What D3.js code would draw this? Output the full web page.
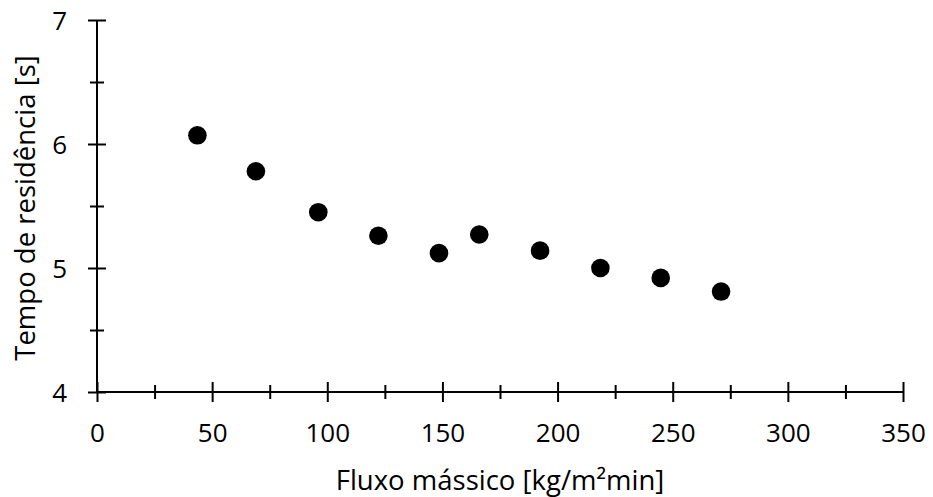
<!DOCTYPE html>
<html>
<head>
<meta charset="utf-8">
<script src="https://cdn.jsdelivr.net/npm/d3@7"></script>
<style>
  html, body { margin: 0; padding: 0; background: #fff; }
  svg { display: block; }
  text { font-family: "Open Sans", "DejaVu Sans", sans-serif; fill: #000; }
</style>
</head>
<body>
<svg id="chart" width="933" height="497"></svg>
<script>
// Mass flux (kg/m²min) and measured residence time (s)
const massFlux = [43.6, 69.0, 96.1, 122.2, 148.5, 166.0, 192.4, 218.6, 244.8, 271.0];
const residenceTime = [6.07, 5.78, 5.45, 5.26, 5.12, 5.27, 5.14, 5.00, 4.92, 4.81];

const xMajorTicks = [0, 50, 100, 150, 200, 250, 300, 350];
const xMinorTicks = [25, 75, 125, 175, 225, 275, 325];
const yMajorTicks = [4, 5, 6, 7];
const yMinorTicks = [4.5, 5.5, 6.5];

const xTitle = "Fluxo mássico [kg/m²min]";
const yTitle = "Tempo de residência [s]";

const plot = { left: 97, right: 903, top: 20, bottom: 392 };

const svg = d3.select("#chart");

const x = d3.scaleLinear().domain([0, 350]).range([plot.left, plot.right]);
const y = d3.scaleLinear().domain([4, 7]).range([plot.bottom, plot.top]);

const tickFont = 26;
const titleFont = 27.5;

// ---- X axis: major ticks with labels, minor ticks without
const gx = svg.append("g").attr("transform", `translate(0,${plot.bottom})`);
gx.call(d3.axisBottom(x).tickValues(xMajorTicks).tickFormat(d3.format("d")).tickSizeOuter(0));
gx.select(".domain").attr("d", `M${plot.left},0H${plot.right}`);
gx.selectAll(".tick line").attr("y1", -10).attr("y2", 10);
gx.selectAll(".tick text")
  .attr("y", 50).attr("dy", 0)
  .style("font-size", tickFont + "px")
  .style("font-family", '"Open Sans", sans-serif');

const gxm = svg.append("g").attr("transform", `translate(0,${plot.bottom})`);
gxm.call(d3.axisBottom(x).tickValues(xMinorTicks).tickFormat("").tickSizeOuter(0));
gxm.select(".domain").remove();
gxm.selectAll(".tick line").attr("y1", -7).attr("y2", 7);

// ---- Y axis
const gy = svg.append("g").attr("transform", `translate(${plot.left},0)`);
gy.call(d3.axisLeft(y).tickValues(yMajorTicks).tickFormat(d3.format("d")).tickSizeOuter(0));
gy.select(".domain").attr("d", `M0,${plot.bottom}V${plot.top}`);
gy.selectAll(".tick line").attr("x1", -9).attr("x2", 9);
gy.selectAll(".tick text")
  .attr("x", -30).attr("dy", "0.36em")
  .style("font-size", tickFont + "px")
  .style("font-family", '"Open Sans", sans-serif');

const gym = svg.append("g").attr("transform", `translate(${plot.left},0)`);
gym.call(d3.axisLeft(y).tickValues(yMinorTicks).tickFormat("").tickSizeOuter(0));
gym.select(".domain").remove();
gym.selectAll(".tick line").attr("x1", -7).attr("x2", 7);

svg.selectAll(".domain, .tick line")
  .attr("stroke", "#000").attr("stroke-width", 2);

// ---- Data points
svg.append("g")
  .selectAll("circle")
  .data(massFlux.map((v, i) => ({ flux: v, time: residenceTime[i] })))
  .join("circle")
  .attr("cx", d => x(d.flux))
  .attr("cy", d => y(d.time))
  .attr("r", 9.3)
  .attr("fill", "#000");

// ---- Axis titles
svg.append("text")
  .attr("x", 500).attr("y", 490)
  .attr("text-anchor", "middle")
  .style("font-size", titleFont + "px")
  .text(xTitle);

svg.append("text")
  .attr("transform", `translate(35,208) rotate(-90)`)
  .attr("text-anchor", "middle")
  .style("font-size", titleFont + "px")
  .text(yTitle);
</script>
</body>
</html>
